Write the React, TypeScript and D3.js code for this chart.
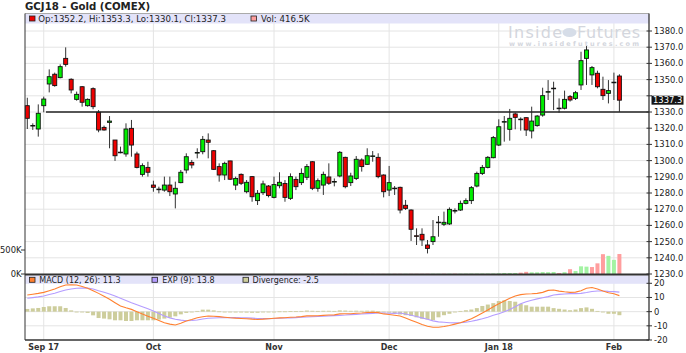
import { useEffect, useRef } from "react";
import * as d3 from "d3";

// GCJ18 daily bars, Aug 29 2017 .. Feb 2 2018 (index based)
const opens = [
  1333.9, 1321.5, 1319.5, 1333.9, 1347.3, 1353.3, 1351.2, 1363.1, 1350.2, 1337.8,
  1345.6, 1333.9, 1344.4, 1329.8, 1320.5, 1323.6, 1312.7, 1305.2, 1304.1, 1319.9,
  1304.1, 1291.5, 1295.8, 1284.9, 1282.2, 1281.8, 1284.9, 1279.4, 1286.4, 1294.2,
  1298.9, 1304.8, 1305.5, 1312.7, 1306.1, 1296.3, 1291.1, 1299.8, 1284.9, 1291.5,
  1280.8, 1290.1, 1275.3, 1280.2, 1284.3, 1277.3, 1284.5, 1285.9, 1276.7, 1288.4,
  1286.4, 1289.7, 1299.3, 1282.9, 1284.9, 1289.9, 1286.9, 1290.5, 1302.0, 1286.4,
  1289.0, 1300.4, 1297.7, 1302.6, 1302.0, 1291.1, 1281.8, 1283.0, 1283.5, 1272.4,
  1269.5, 1253.6, 1254.5, 1247.9, 1250.0, 1261.8, 1260.7, 1260.9, 1269.0, 1269.5,
  1273.6, 1275.3, 1284.3, 1292.1, 1295.8, 1301.8, 1309.6, 1323.9, 1319.3, 1328.8,
  1325.6, 1326.5, 1318.3, 1321.6, 1328.1, 1342.4, 1344.7, 1332.4, 1332.3, 1339.5,
  1338.4, 1346.7, 1363.1, 1352.9, 1353.9, 1344.0, 1341.5, 1348.2, 1352.2,
];
const highs = [
  1338.8, 1323.0, 1334.7, 1339.5, 1356.3, 1354.3, 1359.4, 1369.9, 1350.8, 1342.6,
  1346.0, 1338.4, 1345.2, 1331.2, 1321.6, 1327.5, 1312.7, 1308.6, 1323.0, 1325.1,
  1305.5, 1298.3, 1299.3, 1287.6, 1283.9, 1290.1, 1290.1, 1287.0, 1294.2, 1304.5,
  1300.4, 1307.6, 1315.2, 1316.8, 1306.5, 1298.3, 1299.3, 1299.9, 1290.1, 1292.1,
  1288.0, 1290.5, 1281.8, 1287.6, 1284.9, 1290.1, 1292.8, 1288.0, 1292.1, 1290.1,
  1295.2, 1297.9, 1299.7, 1289.0, 1293.2, 1298.3, 1289.0, 1305.9, 1302.4, 1292.5,
  1302.8, 1301.4, 1307.6, 1305.9, 1304.5, 1291.5, 1296.7, 1284.3, 1283.9, 1275.7,
  1269.9, 1258.2, 1258.2, 1251.0, 1263.3, 1265.8, 1268.5, 1271.1, 1270.5, 1275.3,
  1276.7, 1284.3, 1293.2, 1297.3, 1302.8, 1315.2, 1325.5, 1327.5, 1331.9, 1329.6,
  1326.7, 1326.7, 1333.3, 1328.1, 1345.0, 1349.7, 1348.7, 1338.4, 1343.2, 1340.5,
  1343.0, 1367.2, 1370.7, 1358.4, 1355.5, 1351.8, 1349.7, 1354.3, 1353.3,
];
const lows = [
  1319.5, 1318.9, 1314.8, 1329.8, 1342.1, 1345.6, 1350.8, 1358.0, 1341.5, 1337.0,
  1333.3, 1333.3, 1331.7, 1317.5, 1318.5, 1307.6, 1299.8, 1304.5, 1302.4, 1302.4,
  1295.2, 1290.1, 1290.1, 1280.8, 1279.8, 1280.8, 1278.1, 1270.5, 1286.0, 1292.1,
  1295.2, 1301.4, 1303.9, 1301.4, 1294.2, 1287.0, 1288.0, 1288.0, 1281.8, 1284.9,
  1279.8, 1274.6, 1272.6, 1278.8, 1277.3, 1276.7, 1282.9, 1274.6, 1275.7, 1281.8,
  1284.9, 1288.0, 1281.8, 1280.8, 1278.8, 1285.0, 1284.1, 1289.7, 1282.9, 1284.3,
  1288.0, 1293.2, 1297.3, 1299.3, 1289.1, 1277.3, 1278.1, 1278.8, 1267.4, 1269.5,
  1250.4, 1247.9, 1247.3, 1242.7, 1247.9, 1253.0, 1259.6, 1260.3, 1267.4, 1268.9,
  1273.0, 1273.2, 1283.5, 1291.1, 1295.2, 1301.4, 1309.0, 1311.7, 1312.3, 1319.3,
  1318.5, 1315.2, 1313.7, 1320.9, 1327.1, 1337.4, 1331.2, 1329.6, 1331.6, 1336.4,
  1337.4, 1343.6, 1346.7, 1346.7, 1344.6, 1337.4, 1335.3, 1337.4, 1330.1,
];
const closes = [
  1326.1, 1321.7, 1329.2, 1338.0, 1351.8, 1346.3, 1358.0, 1359.4, 1343.6, 1340.9,
  1336.0, 1337.8, 1333.3, 1318.9, 1318.9, 1324.4, 1303.0, 1305.0, 1319.5, 1309.6,
  1295.8, 1296.9, 1292.8, 1283.5, 1282.4, 1284.9, 1280.8, 1282.9, 1292.8, 1302.4,
  1297.3, 1305.0, 1313.1, 1311.3, 1294.6, 1291.1, 1298.3, 1288.5, 1289.0, 1286.0,
  1286.6, 1277.7, 1279.8, 1285.6, 1278.4, 1285.2, 1286.6, 1277.3, 1290.1, 1283.9,
  1292.1, 1296.3, 1282.9, 1287.6, 1291.5, 1286.0, 1287.1, 1305.1, 1283.9, 1290.5,
  1300.8, 1296.3, 1303.0, 1302.9, 1290.1, 1280.8, 1286.4, 1282.8, 1269.5, 1270.5,
  1257.6, 1253.4, 1251.0, 1245.8, 1253.0, 1262.0, 1261.9, 1269.9, 1269.2, 1273.6,
  1275.3, 1283.3, 1292.1, 1295.8, 1302.0, 1314.2, 1320.9, 1324.1, 1326.1, 1326.7,
  1325.5, 1318.9, 1324.4, 1327.5, 1340.1, 1342.6, 1344.6, 1332.3, 1337.8, 1337.4,
  1341.9, 1361.7, 1368.3, 1357.4, 1345.6, 1340.1, 1343.2, 1348.4, 1337.3,
];
// volume in thousands
const volumes = [
  1, 1, 1, 1, 1, 1, 1, 1, 1, 1, 1, 1, 1, 1, 1, 1, 1, 1, 1, 1,
  1, 1, 1, 1, 1, 1, 1, 1, 1, 1, 1, 1, 1, 1, 1, 1, 1, 1, 1, 1,
  2, 2, 2, 2, 2, 2, 2, 2, 2, 2, 2, 2, 2, 2, 2, 2, 2, 3, 3, 3,
  3, 3, 3, 3, 3, 3, 3, 4, 4, 4, 4, 4, 4, 5, 5, 5, 5, 6, 6, 6,
  7, 8, 8, 9, 9, 10, 14, 21, 21, 21, 28, 45, 35, 35, 40, 38, 42, 21, 38, 100,
  62, 160, 153, 145, 222, 413, 378, 295, 416.5,
];
const macd = [
  11.7, 12.3, 12.9, 13.6, 14.8, 16.0, 17.5, 18.8, 19.0, 18.8,
  17.8, 16.5, 14.8, 12.9, 10.8, 8.7, 6.3, 4.0, 2.7, 1.6,
  0.0, -1.7, -3.2, -4.7, -6.2, -7.8, -8.8, -9.4, -8.2, -6.6,
  -5.5, -4.3, -3.6, -3.1, -3.2, -3.5, -3.9, -4.3, -4.6, -4.8,
  -5.0, -5.3, -5.5, -5.3, -5.0, -4.7, -4.4, -4.3, -3.9, -3.8,
  -3.5, -3.0, -3.0, -2.9, -2.6, -2.4, -2.3, -1.6, -1.5, -1.5,
  -1.1, -1.0, -0.6, -0.4, -0.7, -1.6, -2.0, -2.5, -3.1, -4.5,
  -6.0, -7.5, -9.0, -10.3, -11.0, -11.0, -10.5, -9.8, -8.8, -7.8,
  -6.5, -5.0, -3.0, -1.0, 1.2, 3.5, 5.5, 7.5, 9.4, 11.0,
  12.0, 12.4, 12.6, 12.9, 13.6, 15.0, 15.3, 14.5, 14.0, 13.6,
  13.8, 14.8, 16.5, 17.0, 16.0, 14.5, 13.3, 12.6, 11.3,
];
const signal = [
  9.4, 9.9, 10.4, 11.0, 12.1, 13.0, 14.2, 15.3, 16.0, 16.5,
  16.7, 16.6, 16.0, 14.8, 13.7, 12.5, 11.0, 9.4, 7.9, 6.3,
  4.9, 3.5, 2.0, 0.5, -1.3, -3.1, -4.4, -5.4, -6.0, -6.4,
  -6.2, -5.9, -5.2, -4.7, -4.5, -4.3, -4.2, -4.2, -4.2, -4.3,
  -4.4, -4.6, -4.8, -4.9, -4.9, -4.8, -4.7, -4.5, -4.4, -4.2,
  -4.0, -3.8, -3.6, -3.4, -3.2, -3.0, -2.8, -2.6, -2.4, -2.1,
  -1.9, -1.7, -1.4, -1.2, -1.0, -1.0, -1.1, -1.2, -1.0, -1.7,
  -2.5, -3.4, -4.4, -5.4, -6.5, -7.2, -7.5, -7.8, -7.9, -7.8,
  -7.5, -6.8, -6.0, -5.0, -3.9, -2.5, -1.5, 0.0, 1.5, 3.5,
  5.5, 7.0, 8.1, 9.0, 9.8, 10.6, 11.7, 12.2, 12.5, 12.7,
  12.7, 12.9, 13.5, 14.2, 14.6, 14.6, 14.3, 14.1, 13.8,
];
const divergence = [
  1.9, 2.3, 2.6, 3.3, 3.8, 3.8, 3.8, 2.6, 0.9, 0.0,
  -0.5, -0.9, -2.6, -4.5, -4.9, -5.4, -6.1, -6.1, -6.6, -6.6,
  -6.1, -6.1, -6.1, -6.1, -5.6, -4.9, -4.2, -3.3, -1.9, -0.9,
  0.0, 0.5, 1.4, 1.4, 0.9, 0.2, -0.2, -0.5, -0.6, -0.6,
  -0.7, -0.8, -0.8, -0.5, -0.2, 0.0, 0.2, 0.2, 0.4, 0.3,
  0.5, 0.8, 0.6, 0.5, 0.6, 0.6, 0.5, 0.9, 0.8, 0.6,
  0.7, 0.6, 0.7, 0.7, 0.3, -0.4, -0.7, -1.2, -2.0, -2.5,
  -3.0, -4.0, -5.0, -5.5, -6.0, -4.0, -2.5, -1.5, -0.5, 0.5,
  1.0, 1.5, 2.5, 4.0, 5.0, 6.0, 7.5, 8.0, 7.5, 7.0,
  5.5, 4.5, 3.5, 3.5, 3.5, 3.5, 2.5, 2.0, 1.5, 1.0,
  1.5, 2.5, 3.0, 2.0, 0.5, -0.5, -1.5, -1.5, -2.5,
];
const monthLabels = ["Sep 17", "Oct", "Nov", "Dec", "Jan 18", "Feb"];
const monthStarts = [3, 23, 45, 66, 86, 107];
const priceTicks = d3.range(1230, 1381, 10);
const macdTicks = [20, 10, 0, -10, -20];
const volTicks = [0, 500];
const supportPrice = 1330;
const supportFromBar = 3.4;

const FONT = "DejaVu Sans, Verdana, sans-serif";

export default function App() {
  const svgRef = useRef<SVGSVGElement | null>(null);

  useEffect(() => {
    render();
    // eslint-disable-next-line react-hooks/exhaustive-deps
  }, []);

  function render() {
    const svg = d3.select(svgRef.current!);
    svg.selectAll("*").remove();

    const left = 25;
    const right = 649;
    const n = closes.length;
    const bars = closes.map((c, i) => ({
      i, o: opens[i], h: highs[i], l: lows[i], c, v: volumes[i],
      up: i === 0 ? c >= opens[i] : c >= closes[i - 1],
    }));

    const x = d3.scaleLinear().domain([-0.42, n + 4.4]).range([left, right]);
    const yP = d3.scaleLinear().domain([1230, 1380]).range([274, 31]);
    const yV = d3.scaleLinear().domain([0, 500]).range([274, 250]);
    const yM = d3.scaleLinear().domain([-20, 20]).range([340, 283.3]);

    svg.append("rect").attr("width", 686).attr("height", 353).attr("fill", "#fff");

    // grid
    const grid = svg.append("g").attr("stroke", "#e4e4e4").attr("stroke-width", 1);
    priceTicks.filter((t) => t > 1230).forEach((t) => {
      grid.append("line").attr("x1", left).attr("x2", right).attr("y1", yP(t)).attr("y2", yP(t));
    });
    [10, 0, -10].forEach((t) => {
      grid.append("line").attr("x1", left).attr("x2", right).attr("y1", yM(t)).attr("y2", yM(t));
    });
    monthStarts.forEach((m) => {
      grid.append("line").attr("x1", x(m)).attr("x2", x(m)).attr("y1", 14).attr("y2", 340);
    });

    // legend bands
    svg.append("rect").attr("x", left).attr("y", 14).attr("width", right - left).attr("height", 9.5)
      .attr("fill", "#e3e3f9");
    svg.append("rect").attr("x", left).attr("y", 275.5).attr("width", right - left).attr("height", 8.3)
      .attr("fill", "#e3e3f9");

    // watermark
    const wm = svg.append("g").attr("fill", "#d3d6dd").style("font-family", FONT);
    wm.append("text").attr("x", 508).attr("y", 37.5).attr("font-size", 16).attr("textLength", 54)
      .text("Inside");
    wm.append("ellipse").attr("cx", 569.5).attr("cy", 32.5).attr("rx", 7).attr("ry", 4.5).attr("fill", "#d6dde8");
    wm.append("text").attr("x", 577).attr("y", 37.5).attr("font-size", 16).attr("textLength", 63)
      .text("Futures");
    wm.append("text").attr("x", 509).attr("y", 46).attr("font-size", 6.5).attr("font-weight", "bold")
      .attr("textLength", 130).text("www.insidefutures.com");

    // volume
    svg.append("g").selectAll("rect").data(bars).join("rect")
      .attr("x", (d) => x(d.i) - 2)
      .attr("width", 4)
      .attr("y", (d) => yV(d.v))
      .attr("height", (d) => yV(0) - yV(d.v))
      .attr("fill", (d) => (d.up ? "#a3f3a3" : "#ff9e9e"));

    // candles
    const cg = svg.append("g");
    cg.selectAll("line").data(bars).join("line")
      .attr("x1", (d) => x(d.i)).attr("x2", (d) => x(d.i))
      .attr("y1", (d) => yP(d.h)).attr("y2", (d) => yP(d.l))
      .attr("stroke", "#333").attr("stroke-width", 1);
    cg.selectAll("rect").data(bars).join("rect")
      .attr("x", (d) => x(d.i) - 2)
      .attr("width", 4)
      .attr("y", (d) => yP(Math.max(d.o, d.c)))
      .attr("height", (d) => Math.max(0.6, Math.abs(yP(d.o) - yP(d.c))))
      .attr("fill", (d) => (d.c >= d.o ? "#00ee00" : "#ee0000"))
      .attr("stroke", "#111").attr("stroke-width", 0.9);

    // support line
    svg.append("line").attr("x1", x(supportFromBar)).attr("x2", right)
      .attr("y1", yP(supportPrice)).attr("y2", yP(supportPrice))
      .attr("stroke", "#222").attr("stroke-width", 1.5);

    // MACD
    svg.append("g").selectAll("rect").data(divergence).join("rect")
      .attr("x", (_d, i) => x(i) - 2)
      .attr("width", 4)
      .attr("y", (d) => yM(Math.max(0, d)))
      .attr("height", (d) => Math.max(0.8, Math.abs(yM(d) - yM(0))))
      .attr("fill", "#cdcd9c");
    const line = d3.line<number>().x((_d, i) => x(i)).y((d) => yM(d));
    svg.append("path").datum(signal).attr("d", line).attr("fill", "none")
      .attr("stroke", "#b49cff").attr("stroke-width", 1.1);
    svg.append("path").datum(macd).attr("d", line).attr("fill", "none")
      .attr("stroke", "#ff8030").attr("stroke-width", 1.1);

    // frame
    const fr = svg.append("g").attr("stroke", "#333");
    fr.append("line").attr("x1", left).attr("x2", right).attr("y1", 13.5).attr("y2", 13.5).attr("stroke", "#aaa");
    fr.append("line").attr("x1", left).attr("x2", left).attr("y1", 13.5).attr("y2", 340).attr("stroke-width", 1);
    fr.append("line").attr("x1", right).attr("x2", right).attr("y1", 13.5).attr("y2", 340).attr("stroke-width", 1.3);
    fr.append("line").attr("x1", left).attr("x2", right).attr("y1", 274.5).attr("y2", 274.5).attr("stroke-width", 2);
    fr.append("line").attr("x1", left).attr("x2", right).attr("y1", 340).attr("y2", 340).attr("stroke-width", 1.3);

    // right axis: price
    const lastY = yP(closes[n - 1]);
    const ax = svg.append("g").style("font-family", FONT).attr("font-size", 8.4).attr("fill", "#222");
    priceTicks.forEach((t) => {
      const ty = yP(t);
      ax.append("line").attr("x1", right - 2.5).attr("x2", right + 3).attr("y1", ty).attr("y2", ty).attr("stroke", "#333");
      if (Math.abs(ty - lastY) < 7) return;
      ax.append("text").attr("x", 654).attr("y", ty + 3).text(t.toFixed(1));
    });
    macdTicks.forEach((t) => {
      const ty = yM(t);
      ax.append("line").attr("x1", right - 2.5).attr("x2", right + 3).attr("y1", ty).attr("y2", ty).attr("stroke", "#333");
      ax.append("text").attr("x", 654).attr("y", ty + 3).text(String(t));
    });
    volTicks.forEach((t) => {
      const ty = yV(t);
      ax.append("line").attr("x1", left - 4).attr("x2", left).attr("y1", ty).attr("y2", ty).attr("stroke", "#333");
      ax.append("text").attr("x", 21.5).attr("y", ty + 3).attr("text-anchor", "end").text(`${t}K`);
    });

    // last price box
    svg.append("rect").attr("x", 651.5).attr("y", lastY - 4.5).attr("width", 32).attr("height", 9).attr("fill", "#151515");
    svg.append("text").attr("x", 653).attr("y", lastY + 3).attr("fill", "#fff").style("font-family", FONT)
      .attr("font-size", 8.4).text(closes[n - 1].toFixed(1));

    // month labels
    svg.append("g").selectAll("text").data(monthStarts).join("text")
      .attr("x", (d) => x(d)).attr("y", 350).attr("text-anchor", "middle")
      .style("font-family", FONT).attr("font-size", 8).attr("font-weight", "bold").attr("fill", "#333")
      .text((_d, i) => monthLabels[i]);

    // title
    svg.append("text").attr("x", 25).attr("y", 10).style("font-family", FONT).attr("font-size", 10.2)
      .attr("font-weight", "bold").attr("fill", "#222").text("GCJ18 - Gold (COMEX)");

    // legends
    const last = bars[n - 1];
    const lg = svg.append("g").style("font-family", FONT).attr("fill", "#222");
    const swatch = (sx: number, sy: number, fill: string) =>
      lg.append("rect").attr("x", sx).attr("y", sy).attr("width", 5.5).attr("height", 5)
        .attr("fill", fill).attr("stroke", "#222").attr("stroke-width", 0.8);
    swatch(29.5, 16, last.c >= last.o ? "#00ee00" : "#ee0000");
    lg.append("text").attr("x", 38.3).attr("y", 21.8).attr("font-size", 8.6)
      .text(`Op:${last.o.toFixed(1)}, Hi:${last.h.toFixed(1)}, Lo:${last.l.toFixed(1)}, Cl:${last.c.toFixed(1)}`);
    swatch(251, 16, last.up ? "#a3f3a3" : "#ff9e9e");
    lg.append("text").attr("x", 261).attr("y", 21.8).attr("font-size", 8.6).text(`Vol: ${last.v}K`);

    swatch(29.5, 277.3, "#ff8030");
    lg.append("text").attr("x", 39.3).attr("y", 283).attr("font-size", 8)
      .text(`MACD (12, 26): ${macd[n - 1].toFixed(1)}`);
    swatch(152, 277.3, "#b49cff");
    lg.append("text").attr("x", 162.3).attr("y", 283).attr("font-size", 8)
      .text(`EXP (9): ${signal[n - 1].toFixed(1)}`);
    swatch(243, 277.3, "#cdcd9c");
    lg.append("text").attr("x", 252.5).attr("y", 283).attr("font-size", 8)
      .text(`Divergence: ${divergence[n - 1].toFixed(1)}`);
  }

  return (
    <svg
      ref={svgRef}
      width={686}
      height={353}
      style={{ position: "absolute", left: 0, top: 0, display: "block" }}
    />
  );
}
